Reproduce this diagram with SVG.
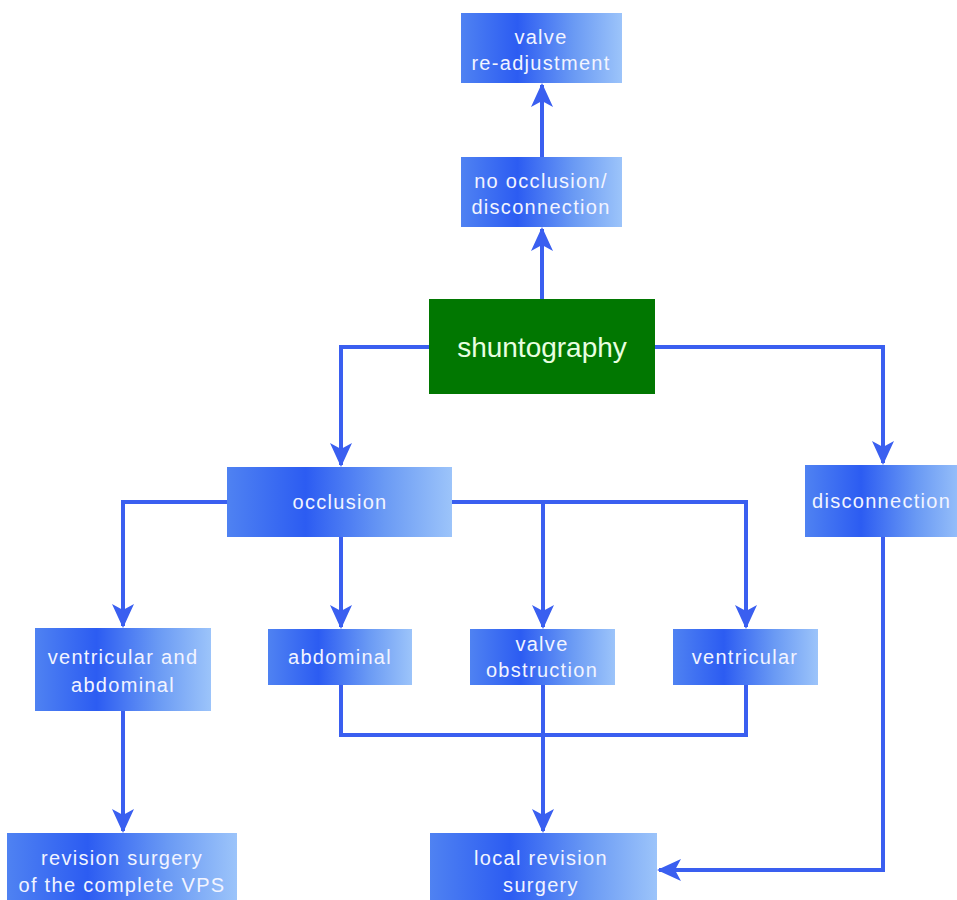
<svg xmlns="http://www.w3.org/2000/svg" width="957" height="900" viewBox="0 0 957 900">
<defs>
<linearGradient id="g" x1="0" y1="0" x2="1" y2="0">
<stop offset="0" stop-color="#4f82f2"/>
<stop offset="0.35" stop-color="#2c5cf2"/>
<stop offset="0.7" stop-color="#6a9af4"/>
<stop offset="1" stop-color="#9cc4fa"/>
</linearGradient>
<marker id="a" viewBox="0 0 24 22" refX="22" refY="11" markerWidth="24" markerHeight="22" markerUnits="userSpaceOnUse" orient="auto">
<path d="M0,0 L24,11 L0,22 L6,11 Z" fill="#3a5ff0"/>
</marker>
<style>
.b{fill:url(#g)}
.t{font-family:"Liberation Sans",Arial,sans-serif;font-size:20px;letter-spacing:1.3px;fill:#f2f4ff;text-anchor:middle}
.c path{fill:none;stroke:#3a5ff0;stroke-width:4}
</style>
</defs>
<rect width="957" height="900" fill="#fff"/>
<g class="c">
<path d="M542,299 V229" marker-end="url(#a)"/>
<path d="M542,157 V85" marker-end="url(#a)"/>
<path d="M429,347 H341 V465" marker-end="url(#a)"/>
<path d="M655,347 H883 V463" marker-end="url(#a)"/>
<path d="M227,502 H123 V626" marker-end="url(#a)"/>
<path d="M341,537 V627" marker-end="url(#a)"/>
<path d="M452,502 H746 V627" marker-end="url(#a)"/>
<path d="M543,502 V627" marker-end="url(#a)"/>
<path d="M341,685 V735 H746 V685"/>
<path d="M543,685 V831" marker-end="url(#a)"/>
<path d="M123,711 V831" marker-end="url(#a)"/>
<path d="M883,537 V870 H659" marker-end="url(#a)"/>
</g>
<g id="valve-readjustment"><rect class="b" x="461" y="13" width="161" height="70"/><text class="t" x="541" y="44">valve</text><text class="t" x="541" y="70">re-adjustment</text></g>
<g id="no-occlusion"><rect class="b" x="461" y="157" width="161" height="70"/><text class="t" x="541" y="188">no occlusion/</text><text class="t" x="541" y="214">disconnection</text></g>
<g id="shuntography"><rect x="429" y="299" width="226" height="95" fill="#017701"/><text x="542" y="357" font-family="Liberation Sans,Arial,sans-serif" font-size="28" fill="#e8ffe0" text-anchor="middle">shuntography</text></g>
<g id="occlusion"><rect class="b" x="227" y="467" width="225" height="70"/><text class="t" x="340" y="509">occlusion</text></g>
<g id="disconnection"><rect class="b" x="805" y="465" width="160" height="72"/><text class="t" x="812" y="508" style="text-anchor:start">disconnection</text></g>
<g id="ventricular-abdominal"><rect class="b" x="35" y="628" width="176" height="83"/><text class="t" x="123" y="664">ventricular and</text><text class="t" x="123" y="692">abdominal</text></g>
<g id="abdominal"><rect class="b" x="268" y="629" width="144" height="56"/><text class="t" x="340" y="664">abdominal</text></g>
<g id="valve-obstruction"><rect class="b" x="470" y="629" width="145" height="56"/><text class="t" x="542" y="651">valve</text><text class="t" x="542" y="677">obstruction</text></g>
<g id="ventricular"><rect class="b" x="673" y="629" width="145" height="56"/><text class="t" x="745" y="664">ventricular</text></g>
<g id="revision-complete"><rect class="b" x="7" y="833" width="230" height="70"/><text class="t" x="122" y="865">revision surgery</text><text class="t" x="122" y="892">of the complete VPS</text></g>
<g id="local-revision"><rect class="b" x="430" y="833" width="227" height="70"/><text class="t" x="541" y="865">local revision</text><text class="t" x="541" y="892">surgery</text></g>
</svg>
